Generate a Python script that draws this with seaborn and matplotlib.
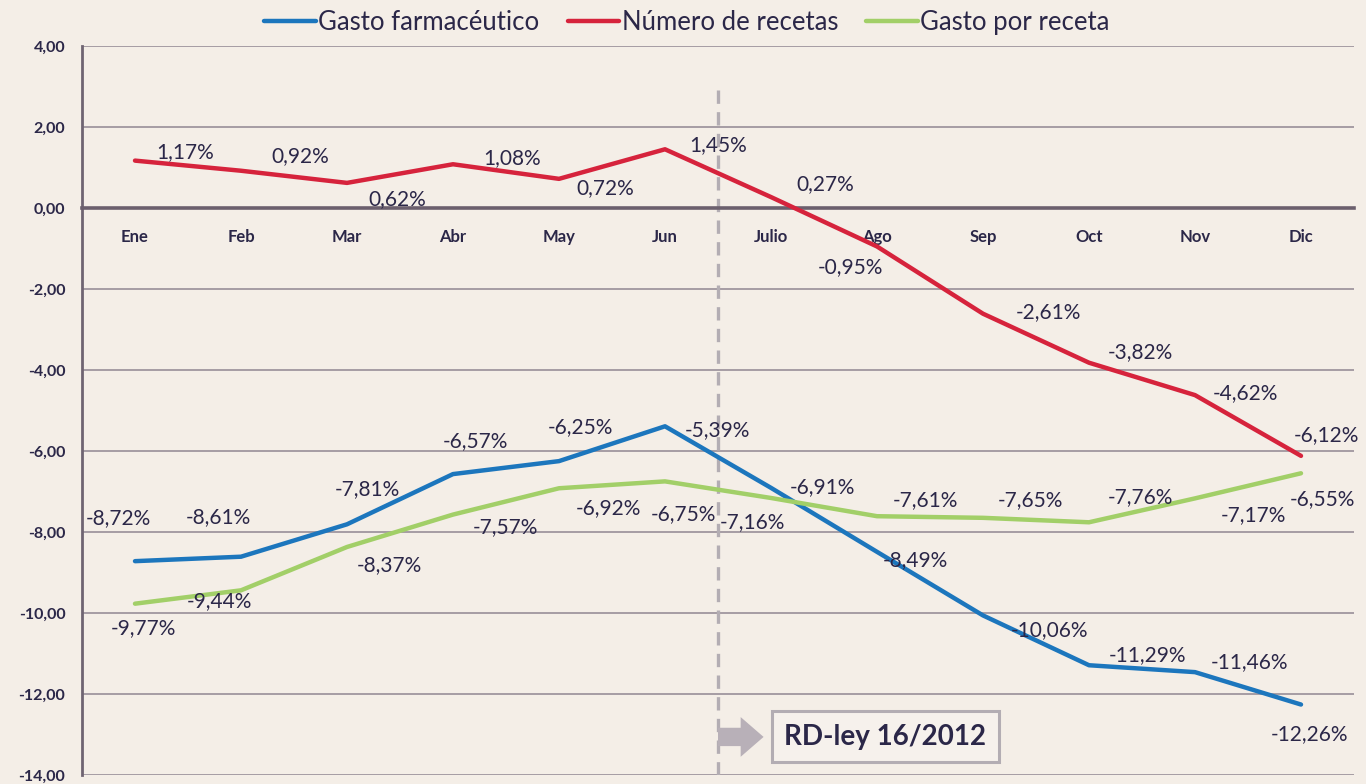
import numpy as np
import pandas as pd
import matplotlib
matplotlib.use("Agg")
import matplotlib.pyplot as plt
import seaborn as sns
from matplotlib.ticker import FuncFormatter, FixedLocator
from matplotlib.lines import Line2D

# ---- data ----
meses = ['Ene', 'Feb', 'Mar', 'Abr', 'May', 'Jun', 'Julio', 'Ago', 'Sep', 'Oct', 'Nov', 'Dic']
gasto_farmaceutico = [-8.72, -8.61, -7.81, -6.57, -6.25, -5.39, -6.91, -8.49, -10.06, -11.29, -11.46, -12.26]
numero_recetas = [1.17, 0.92, 0.62, 1.08, 0.72, 1.45, 0.27, -0.95, -2.61, -3.82, -4.62, -6.12]
gasto_por_receta = [-9.77, -9.44, -8.37, -7.57, -6.92, -6.75, -7.16, -7.61, -7.65, -7.76, -7.17, -6.55]
series = ['Gasto farmacéutico', 'Número de recetas', 'Gasto por receta']
y_ticks = [4, 2, 0, -2, -4, -6, -8, -10, -12, -14]
anotacion = 'RD-ley 16/2012'

# ---- style ----
colores = {'Gasto farmacéutico': '#1c76bd', 'Número de recetas': '#d6233c', 'Gasto por receta': '#a2cf68'}
bg = '#f4eee7'
txt = '#2b2748'
# label offsets in pixels (dx, dy) per series
offs = {
    'Número de recetas': [(50, 9), (59, 15), (50, -16), (59, 6), (46, -9), (53, 4), (54, 13), (-27, -21),
                          (65, 2), (51, 11), (50, 2), (25, 21)],
    'Gasto farmacéutico': [(-17, 43), (-23, 40), (20, 35), (22, 33), (21, 34), (52, -4), (51, 1), (38, -8),
                           (67, -15), (59, 10), (55, 10), (8, -30)],
    'Gasto por receta': [(8, -24), (-22, -11), (42, -18), (52, -13), (49, -20), (18, -33), (-19, -24), (48, 16),
                         (47, 18), (51, 25), (58, -17), (21, -26)],
}

sns.set_theme(style='white')
plt.rcParams['font.family'] = ['Lato', 'DejaVu Sans']

df = pd.DataFrame({
    'x': list(range(len(meses))) * 3,
    'valor': gasto_farmaceutico + numero_recetas + gasto_por_receta,
    'serie': [s for s in series for _ in meses],
})

fig = plt.figure(figsize=(13.66, 7.84), dpi=100, facecolor=bg)
ax = fig.add_axes([82 / 1366, 1 - 775 / 784, (1354 - 82) / 1366, (775 - 46) / 784])
ax.set_facecolor(bg)

sns.lineplot(data=df, x='x', y='valor', hue='serie', hue_order=series, palette=colores,
             linewidth=3.2, ax=ax, legend=False, sort=False, zorder=4)

ax.set_xlim(-0.5, len(meses) - 0.5)
ax.set_ylim(min(y_ticks), max(y_ticks))

# grid
ax.yaxis.set_major_locator(FixedLocator(y_ticks))
ax.yaxis.set_major_formatter(FuncFormatter(lambda v, p: f"{v:.2f}".replace('.', ',')))
ax.grid(axis='y', color='#988e98', linewidth=1.2, zorder=1)
ax.grid(axis='x', visible=False)

for s in ['top', 'right']:
    ax.spines[s].set_visible(False)
ax.spines['left'].set_color('#6f6472')
ax.spines['left'].set_linewidth(2)
ax.spines['bottom'].set_position(('data', 0))
ax.spines['bottom'].set_color('#6b5f6d')
ax.spines['bottom'].set_linewidth(2.6)
ax.spines['bottom'].set_zorder(3)

ax.set_xticks(range(len(meses)))
ax.set_xticklabels(meses)
ax.set_xticks(np.arange(-0.5, len(meses), 1), minor=True)
ax.tick_params(axis='x', which='major', length=0, pad=15, labelsize=12, labelcolor=txt)
ax.tick_params(axis='x', which='minor', length=7, width=1.5, direction='inout', color='#6b5f6d')
ax.tick_params(axis='y', which='major', length=5, width=1.2, color='#6f6472', direction='out',
               pad=7, labelsize=11.5, labelcolor=txt)
for lab in ax.get_xticklabels() + ax.get_yticklabels():
    lab.set_fontweight('bold')
ax.set_xlabel('')
ax.set_ylabel('')

# data labels
datos = {'Gasto farmacéutico': gasto_farmaceutico, 'Número de recetas': numero_recetas,
         'Gasto por receta': gasto_por_receta}
for s in series:
    for i, v in enumerate(datos[s]):
        dx, dy = offs[s][i]
        ax.annotate(f"{v:.2f}%".replace('.', ','), xy=(i, v), xytext=(dx, dy), textcoords='offset pixels',
                    ha='center', va='center', fontsize=15, color=txt, zorder=6)

# vertical dashed separator
ax.vlines(5.5, min(y_ticks), 3.05, colors='#b3adb3', linestyles=(0, (4, 2.5)), linewidth=2.4, zorder=2)

# annotation box with arrow
ax.annotate('', xy=(5.93, -13.06), xytext=(5.5, -13.06),
            arrowprops=dict(arrowstyle='simple,head_width=1.3,head_length=0.75,tail_width=0.6',
                            color='#b8b0b8', lw=0, mutation_scale=22, shrinkA=0, shrinkB=0), zorder=5)
ax.text(7.08, -13.06, anotacion, ha='center', va='center', fontsize=20, fontweight='bold', color=txt,
        zorder=6,
        bbox=dict(boxstyle='square,pad=0.45', facecolor='#f6f1ec', edgecolor='#b3adb3', linewidth=2.2))

# legend
handles = [Line2D([0], [0], color=colores[s], linewidth=3.2) for s in series]
leg = fig.legend(handles, series, loc='center', bbox_to_anchor=(0.503, 0.971), ncol=3, frameon=False,
                 fontsize=18.5, handlelength=2.0, handletextpad=0.1, columnspacing=1.1)
for t in leg.get_texts():
    t.set_color(txt)

fig.savefig('out.png', dpi=100, facecolor=bg)
